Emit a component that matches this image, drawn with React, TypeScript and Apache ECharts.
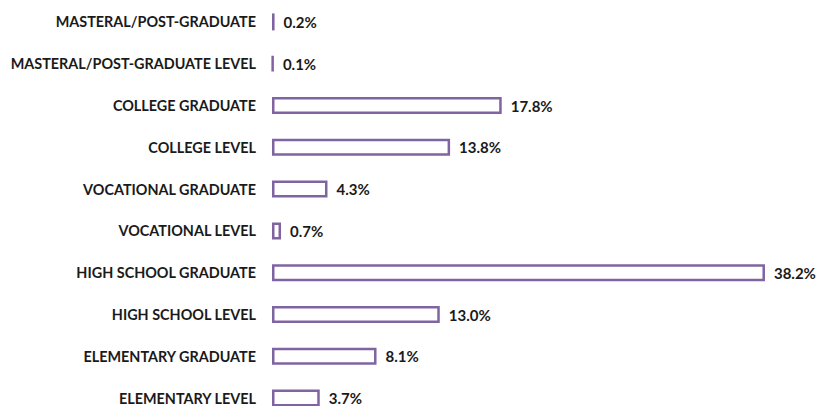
import React, { useEffect, useRef } from "react";
import * as echarts from "echarts";

const categories = [
  "MASTERAL/POST-GRADUATE",
  "MASTERAL/POST-GRADUATE LEVEL",
  "COLLEGE GRADUATE",
  "COLLEGE LEVEL",
  "VOCATIONAL GRADUATE",
  "VOCATIONAL LEVEL",
  "HIGH SCHOOL GRADUATE",
  "HIGH SCHOOL LEVEL",
  "ELEMENTARY GRADUATE",
  "ELEMENTARY LEVEL",
];
const values = [0.2, 0.1, 17.8, 13.8, 4.3, 0.7, 38.2, 13.0, 8.1, 3.7];

export default function App() {
  const ref = useRef<HTMLDivElement>(null);
  useEffect(() => {
    if (!ref.current) return;
    const chart = echarts.init(ref.current, null, { renderer: "svg" });
    chart.setOption({
      animation: false,
      backgroundColor: "#ffffff",
      grid: { left: 272, right: 2, top: 1, bottom: 0, containLabel: false },
      xAxis: {
        type: "value",
        min: 0,
        max: 42,
        show: false,
      },
      yAxis: {
        type: "category",
        data: categories,
        inverse: true,
        axisLine: { show: false },
        axisTick: { show: false },
        axisLabel: {
          margin: 16,
          color: "#1a1a1a",
          fontFamily: "Lato",
          fontWeight: "bold",
          fontSize: 14.4,
        },
      },
      series: [
        {
          type: "bar",
          data: values,
          barWidth: 17,
          itemStyle: {
            color: "#ffffff",
            borderColor: "#8064A2",
            borderWidth: 2.5,
          },
          label: {
            show: true,
            position: "right",
            distance: 9,
            formatter: (p: any) => p.value.toFixed(1) + "%",
            color: "#1a1a1a",
            fontFamily: "Lato",
            fontWeight: "bold",
            fontSize: 15,
          },
        },
      ],
    });
    return () => chart.dispose();
  }, []);
  return (
    <div
      style={{
        position: "fixed",
        left: 0,
        top: 0,
        width: 816,
        height: 406,
        overflow: "hidden",
        background: "#fff",
      }}
    >
      <div ref={ref} style={{ width: 816, height: 419 }} />
    </div>
  );
}
